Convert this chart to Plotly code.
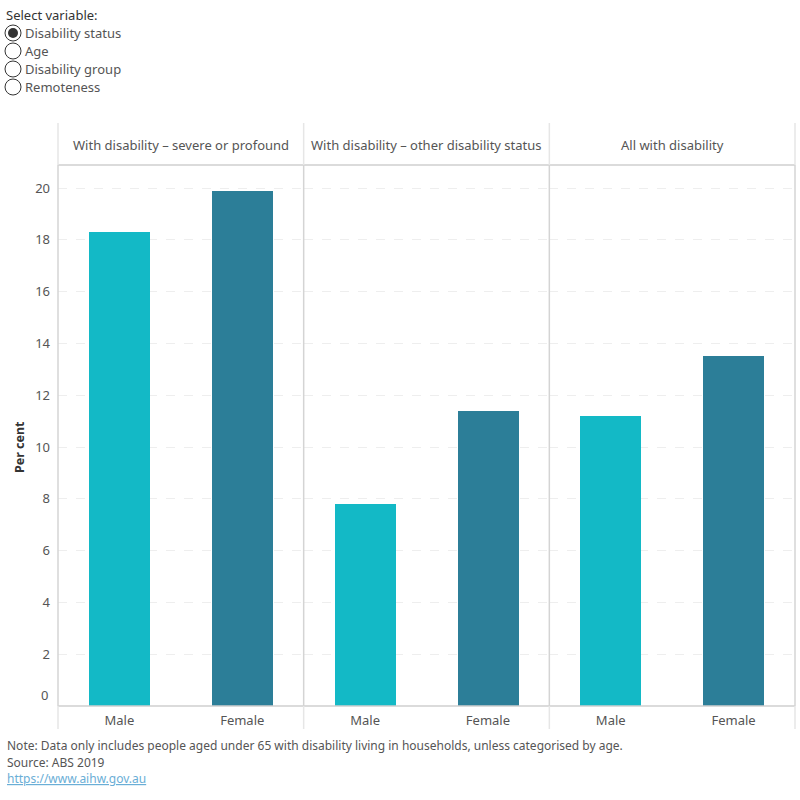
import plotly.graph_objects as go

panels = ["With disability \u2013 severe or profound",
          "With disability \u2013 other disability status",
          "All with disability"]
sexes = ["Male", "Female"]
male_values = [18.3, 7.8, 11.2]
female_values = [19.9, 11.4, 13.5]
y_ticks = [0, 2, 4, 6, 8, 10, 12, 14, 16, 18, 20]
radio_options = ["Disability status", "Age", "Disability group", "Remoteness"]

MALE_C = "#13b9c6"
FEMALE_C = "#2c7e98"
FONT = "Noto Sans"
TXT = "#555555"

W, H = 800, 800
L, R, T, B = 58, 5, 165, 94
PW = W - L - R
PH = H - T - B


def px(x):
    return (x - L) / PW


def py(y):
    return (H - B - y) / PH


fig = go.Figure()
n = len(panels)
for i in range(n):
    xa = "x" if i == 0 else f"x{i+1}"
    fig.add_trace(go.Bar(
        x=sexes, y=[male_values[i], female_values[i]],
        marker=dict(color=[MALE_C, FEMALE_C], line=dict(width=0)),
        width=0.5, xaxis=xa, yaxis="y", showlegend=False,
        hovertemplate="%{x}: %{y}%<extra></extra>"))
    key = "xaxis" if i == 0 else f"xaxis{i+1}"
    fig.layout[key] = dict(
        domain=[i / n, (i + 1) / n], anchor="y", type="category",
        range=[-0.5, 1.5], showgrid=False, zeroline=False, showline=False,
        ticks="", ticklen=0, ticklabelstandoff=5,
        tickfont=dict(family=FONT, size=13, color=TXT))

fig.update_layout(
    width=W, height=H,
    margin=dict(l=L, r=R, t=T, b=B, pad=0),
    paper_bgcolor="white", plot_bgcolor="white",
    font=dict(family=FONT, color=TXT),
    yaxis=dict(range=[0, 20.89], tickvals=y_ticks[1:], showgrid=True,
               gridcolor="#eeeeee", griddash="dash", gridwidth=1,
               zeroline=False, showline=False, ticks="",
               ticklabelstandoff=7,
               tickfont=dict(family=FONT, size=13, color=TXT)),
    bargap=0,
)

shapes = []
shapes.append(dict(type="line", xref="paper", yref="paper", x0=0, x1=1,
                   y0=1, y1=1, line=dict(color="#cfcfcf", width=1.5)))
shapes.append(dict(type="line", xref="paper", yref="paper", x0=0, x1=1,
                   y0=0, y1=0, line=dict(color="#cfcfcf", width=1.5)))
for i in range(n + 1):
    xx = i / n
    shapes.append(dict(type="line", xref="paper", yref="paper", x0=xx, x1=xx,
                       y0=0, y1=1, line=dict(color="#d4d4d4", width=1.5)))
    shapes.append(dict(type="line", xref="paper", yref="paper", x0=xx, x1=xx,
                       y0=1, y1=py(123), line=dict(color="#e6e6e6", width=1.5)))
    shapes.append(dict(type="line", xref="paper", yref="paper", x0=xx, x1=xx,
                       y0=py(729), y1=0, line=dict(color="#e6e6e6", width=1.5)))

for j, opt in enumerate(radio_options):
    cy = 33 + 18 * j
    shapes.append(dict(type="circle", xref="paper", yref="paper",
                       x0=px(5), x1=px(21), y0=py(cy + 8), y1=py(cy - 8),
                       line=dict(color="#333333", width=1), fillcolor="white"))
    if j == 0:
        shapes.append(dict(type="circle", xref="paper", yref="paper",
                           x0=px(8), x1=px(18), y0=py(cy + 5), y1=py(cy - 5),
                           line=dict(width=0), fillcolor="#333333"))

annotations = []
for i, p in enumerate(panels):
    annotations.append(dict(text=p, xref="paper", yref="paper",
                            x=(i + 0.5) / n, y=py(145), xanchor="center",
                            yanchor="middle", showarrow=False,
                            font=dict(family=FONT, size=13, color=TXT)))
annotations.append(dict(text="0", xref="paper", yref="y", x=px(50), y=0,
                        xanchor="right", yanchor="bottom", showarrow=False,
                        font=dict(family=FONT, size=13, color=TXT)))
annotations.append(dict(text="<b>Per cent</b>", xref="paper", yref="paper",
                        x=px(20), y=py(447), textangle=-90, xanchor="center",
                        yanchor="middle", showarrow=False,
                        font=dict(family=FONT, size=12.5, color="#333333")))
annotations.append(dict(text="Select variable:", xref="paper", yref="paper",
                        x=px(4), y=py(15), xanchor="left", yanchor="middle",
                        showarrow=False,
                        font=dict(family=FONT, size=13, color="#333333")))
for j, opt in enumerate(radio_options):
    annotations.append(dict(text=opt, xref="paper", yref="paper",
                            x=px(23), y=py(33 + 18 * j), xanchor="left",
                            yanchor="middle", showarrow=False,
                            font=dict(family=FONT, size=13, color="#555555")))
notes = ["Note: Data only includes people aged under 65 with disability living in households, unless categorised by age.",
         "Source: ABS 2019"]
for k, t in enumerate(notes):
    annotations.append(dict(text=t, xref="paper", yref="paper",
                            x=px(5), y=py(745 + 17 * k), xanchor="left",
                            yanchor="middle", showarrow=False,
                            font=dict(family=FONT, size=12, color="#555555")))
annotations.append(dict(
    text='<a href="https://www.aihw.gov.au" style="color:#6aaed6;text-decoration:underline">https://www.aihw.gov.au</a>',
    xref="paper", yref="paper", x=px(5), y=py(778), xanchor="left",
    yanchor="middle", showarrow=False,
    font=dict(family=FONT, size=12, color="#6aaed6")))

fig.update_layout(shapes=shapes, annotations=annotations)
fig.write_html("out.html")
